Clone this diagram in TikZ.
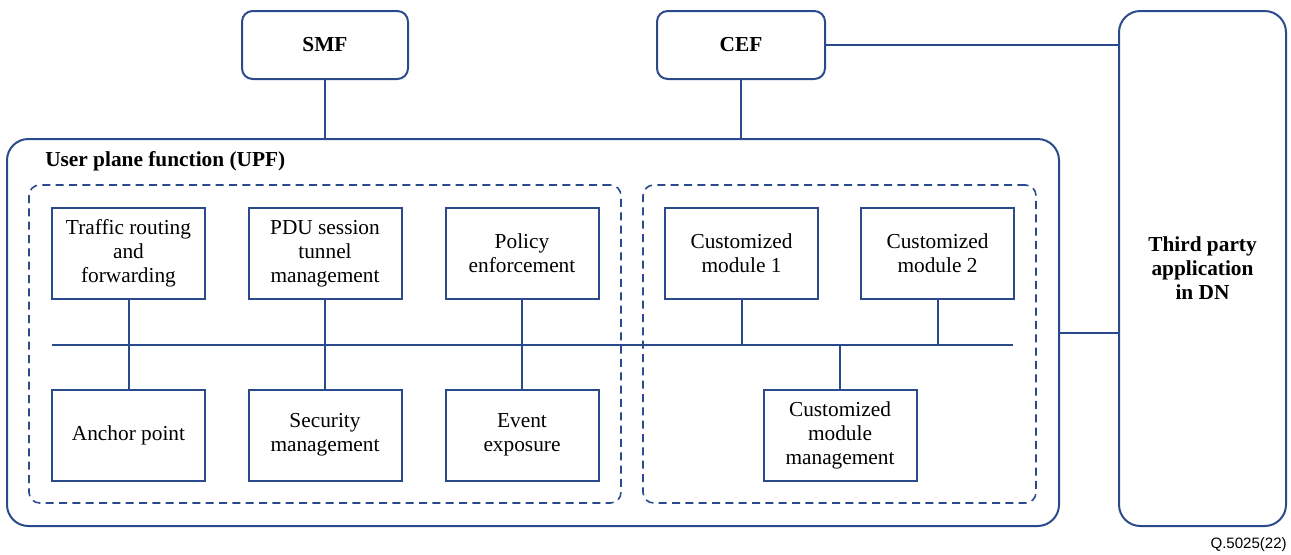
\documentclass[tikz,border=0pt]{standalone}
\usepackage{fontspec}
\setmainfont{Liberation Serif}
\newfontfamily\footfont{Liberation Sans}
\usetikzlibrary{positioning}
\definecolor{upfblue}{RGB}{43,74,139}
\tikzset{
    x=0.75pt, y=-0.75pt, % one unit is one pixel of the layout
    link/.style={draw=upfblue, line width=1.5pt}, % the connecting lines
    box/.style={rectangle, draw=upfblue, line width=1.5pt, minimum width=114.75pt, minimum height=68.25pt, align=center, font=\fontsize{16}{18}\selectfont, inner sep=2pt}, % the function blocks
    nfbox/.style={box, rounded corners=8pt, font=\fontsize{16}{18}\selectfont\bfseries}, % network functions outside the UPF
    group/.style={rectangle, draw=upfblue, line width=1.2pt, dash pattern=on 6pt off 4pt, rounded corners=8pt}, % dashed groupings
}

\begin{document}
\begin{tikzpicture}
    \useasboundingbox (0,0) rectangle (1291,554);
    % outer boxes
    \node[nfbox, minimum width=124.5pt, minimum height=51pt] (smf) at (325,45) {SMF};
    \node[nfbox, minimum width=126pt, minimum height=51pt] (cef) at (741,45) {CEF};
    \node[nfbox, rounded corners=16pt, minimum width=125.25pt, minimum height=386.25pt] (dn) at (1202.5,268.5) {Third party\\application\\in DN};
    \node[rectangle, draw=upfblue, line width=1.5pt, rounded corners=16pt, minimum width=789pt, minimum height=290.25pt] (upf) at (533,332.5) {};
    \node[anchor=west, font=\fontsize{16}{18}\selectfont\bfseries, inner sep=0pt] (upflabel) at (45,161) {User plane function (UPF)};
    \node[group, minimum width=444pt, minimum height=238.5pt] (basic) at (325,344) {};
    \node[group, minimum width=294.75pt, minimum height=238.5pt] (custom) at (839.5,344) {};
    % basic functions
    \node[box] (trf) at (128.5,253.5) {Traffic routing\\and\\forwarding};
    \node[box] (pdu) at (325,253.5) {PDU session\\tunnel\\management};
    \node[box] (pol) at (522,253.5) {Policy\\enforcement};
    \node[box] (anc) at (128.5,435) {Anchor point};
    \node[box] (sec) at (325,435) {Security\\management};
    \node[box] (evt) at (522,435) {Event\\exposure};
    % customized functions
    \node[box] (mod1) at (741.5,253.5) {Customized\\module 1};
    \node[box] (mod2) at (937.5,253.5) {Customized\\module 2};
    \node[box] (mgmt) at (840,435) {Customized\\module\\management};
    % bus
    \coordinate (busL) at (52,345);
    \coordinate (busR) at (1013,345);
    \draw[link] (busL) -- (busR);
    \draw[link] (trf) -- (anc)
          (pdu) -- (sec)
          (pol) -- (evt);
    \draw[link] (mod1.south) -- (mod1.south |- busL)
          (mod2.south) -- (mod2.south |- busL)
          (mgmt.north) -- (mgmt.north |- busL);
    % interfaces
    \draw[link] (smf) -- (smf |- upf.north);
    \draw[link] (cef) -- (cef |- upf.north);
    \draw[link] (cef.east) -- (cef.east -| dn.west);
    \draw[link] (upf.east) -- (upf.east -| dn.west);
    \node[anchor=east, font=\footfont\fontsize{11.3}{13}\selectfont, inner sep=0pt] (figno) at (1287,545) {Q.5025(22)};
\end{tikzpicture}
\end{document}
